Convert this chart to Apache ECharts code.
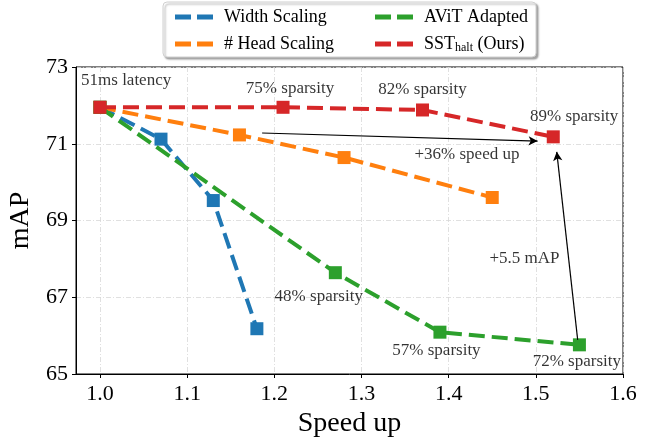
<!DOCTYPE html>
<html>
<head>
<meta charset="utf-8">
<script src="https://cdn.jsdelivr.net/npm/echarts@6/dist/echarts.min.js"></script>
<style>
  html, body { margin: 0; padding: 0; background: #fff; }
  #chart { width: 650px; height: 440px; }
</style>
</head>
<body>
<div id="chart"></div>
<script>
// data
const speedWidth = [1.0, 1.07, 1.13, 1.18];
const mapWidth = [71.95, 71.12, 69.52, 66.18];
const speedHead = [1.0, 1.16, 1.28, 1.45];
const mapHead = [71.95, 71.23, 70.64, 69.6];
const speedAvit = [1.0, 1.27, 1.39, 1.55];
const mapAvit = [71.95, 67.64, 66.09, 65.76];
const speedSst = [1.0, 1.21, 1.37, 1.52];
const mapSst = [71.95, 71.95, 71.88, 71.18];

const xTicks = [1.0, 1.1, 1.2, 1.3, 1.4, 1.5, 1.6];
const yTicks = [65, 67, 69, 71, 73];

// text notes and arrows, in data units
const noteText = ['51ms latency', '75% sparsity', '82% sparsity', '89% sparsity', '+36% speed up',
  '+5.5 mAP', '48% sparsity', '57% sparsity', '72% sparsity'];
const noteX = [1.03, 1.218, 1.37, 1.544, 1.421, 1.487, 1.251, 1.386, 1.547];
const noteY = [72.66, 72.45, 72.4, 71.72, 70.73, 68.0, 67.01, 65.6, 65.32];
const arrows = [
  [[1.186, 71.28], [1.502, 71.07]],
  [[1.548, 65.89], [1.524, 70.79]]
];

const font = 'Liberation Serif';
const colors = { width: '#1f77b4', head: '#ff7f0e', avit: '#2ca02c', sst: '#d62728' };

function zip(xs, ys) {
  return xs.map((x, i) => [x, ys[i]]);
}

function lineSeries(name, xs, ys, color, z) {
  return {
    name: name,
    type: 'line',
    data: zip(xs, ys),
    z: z,
    symbol: 'rect',
    symbolSize: 13,
    itemStyle: { color: color },
    lineStyle: { color: color, width: 4, type: [16, 7] }
  };
}

const dashIcon = 'path://M0,0H16V5H0Z M22,0H38V5H22Z';

const chart = echarts.init(document.getElementById('chart'));
const option = {
  animation: false,
  textStyle: { fontFamily: font },
  grid: {
    left: 76, right: 27, top: 67, bottom: 66,
    outerBoundsMode: 'none',
    containLabel: false,
    show: true, borderColor: '#000', borderWidth: 1, backgroundColor: 'transparent'
  },
  legend: [
    {
      data: ['Width Scaling', '# Head Scaling'],
      orient: 'vertical',
      left: 170, top: 3,
      itemWidth: 38, itemHeight: 5, itemGap: 9,
      icon: dashIcon,
      textStyle: { fontFamily: font, fontSize: 18, color: '#000', padding: [0, 0, 0, 6] }
    },
    {
      data: ['AViT Adapted', 'SST_halt (Ours)'],
      orient: 'vertical',
      left: 370, top: 3,
      itemWidth: 38, itemHeight: 5, itemGap: 9,
      icon: dashIcon,
      formatter: function (name) {
        if (name === 'SST_halt (Ours)') return '{n|SST}{s|halt}{n| (Ours)}';
        return name;
      },
      textStyle: {
        fontFamily: font, fontSize: 18, color: '#000', padding: [0, 0, 0, 6],
        rich: {
          n: { fontFamily: font, fontSize: 18, color: '#000' },
          s: { fontFamily: font, fontSize: 12, color: '#000', verticalAlign: 'bottom', padding: [8, 0, 0, 0] }
        }
      }
    }
  ],
  graphic: [
    {
      type: 'rect',
      shape: { x: 163, y: 2, width: 373, height: 55, r: 4 },
      style: { fill: '#fff', stroke: '#d0d0d0', lineWidth: 1, shadowColor: 'rgba(0,0,0,0.35)', shadowOffsetX: 2, shadowOffsetY: 2, shadowBlur: 2 },
      z: -1
    }
  ],
  xAxis: {
    type: 'value',
    min: 0.9725, max: 1.6,
    name: 'Speed up',
    nameLocation: 'middle',
    nameGap: 34,
    nameTextStyle: { fontFamily: font, fontSize: 28, color: '#000' },
    axisLine: { show: true, lineStyle: { color: '#000', width: 1 } },
    axisTick: { show: true, inside: false, length: 4, lineStyle: { color: '#000' }, customValues: xTicks },
    axisLabel: {
      fontFamily: font, fontSize: 22, color: '#000', margin: 9,
      customValues: xTicks,
      formatter: v => v.toFixed(1)
    },
    splitLine: { show: true, lineStyle: { color: '#d8d8d8', width: 0.8, type: [5, 2, 1, 2] } }
  },
  yAxis: {
    type: 'value',
    min: 65, max: 73,
    name: 'mAP',
    nameLocation: 'middle',
    nameGap: 40,
    nameTextStyle: { fontFamily: font, fontSize: 28, color: '#000' },
    axisLine: { show: true, lineStyle: { color: '#000', width: 1 } },
    axisTick: { show: true, inside: false, length: 4, lineStyle: { color: '#000' }, customValues: yTicks },
    axisLabel: {
      fontFamily: font, fontSize: 22, color: '#000', margin: 8,
      customValues: yTicks
    },
    splitLine: { show: true, lineStyle: { color: '#d8d8d8', width: 0.8, type: [5, 2, 1, 2] } }
  },
  series: [
    lineSeries('Width Scaling', speedWidth, mapWidth, colors.width, 2),
    lineSeries('# Head Scaling', speedHead, mapHead, colors.head, 3),
    lineSeries('AViT Adapted', speedAvit, mapAvit, colors.avit, 4),
    lineSeries('SST_halt (Ours)', speedSst, mapSst, colors.sst, 5),
    {
      name: 'notes',
      type: 'scatter',
      z: 6,
      symbolSize: 0,
      silent: true,
      data: noteText.map((t, i) => ({ name: t, value: [noteX[i], noteY[i]] })),
      label: {
        show: true,
        position: 'inside',
        formatter: p => p.name,
        fontFamily: font, fontSize: 17, color: '#000'
      },
      markLine: {
        silent: true,
        symbol: ['none', 'arrow'],
        symbolSize: [7, 9],
        label: { show: false },
        lineStyle: { color: '#000', width: 1.2, type: 'solid' },
        data: arrows.map(a => [{ coord: a[0] }, { coord: a[1] }])
      }
    }
  ]
};
chart.setOption(option);
</script>
</body>
</html>
